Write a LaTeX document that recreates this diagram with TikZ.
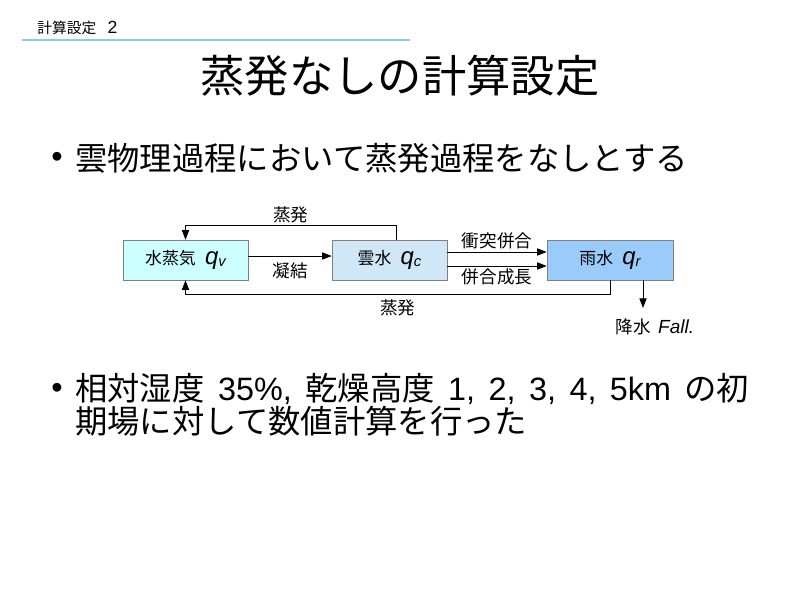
\documentclass[tikz,border=0pt]{standalone}
\usepackage{fontspec}
\setmainfont{Noto Sans CJK JP}
\newfontfamily\lat{Liberation Sans}[WordSpace=1.5]
\usetikzlibrary{arrows.meta,positioning,calc}
\definecolor{vaporfill}{RGB}{204,255,255}
\definecolor{cloudfill}{RGB}{207,231,247}
\definecolor{rainfill}{RGB}{153,204,250}
\definecolor{boxline}{RGB}{128,128,128}
\definecolor{headline}{RGB}{140,200,238}
\tikzset{
  water/.style={
    draw=boxline,
    thin,
    minimum height=1cm,
    inner sep=1pt,
    font=\fontsize{12}{13}\selectfont
  },
  flow/.style={-{Triangle[length=2.4mm,width=1.8mm]}, line width=0.7pt},
  flowlabel/.style={inner sep=1.5pt, font=\fontsize{12.5}{14}\selectfont},
  bullettext/.style={anchor=west, inner sep=0pt, font=\fontsize{23}{26}\selectfont},
  bulletdot/.style={inner sep=0pt, font=\lat\fontsize{23}{26}\selectfont}
}
\newcommand{\mixq}[1]{\hspace{0.55em}{\lat\itshape\fontsize{17}{17}\selectfont q\raisebox{-1.2pt}{\fontsize{10.5}{10}\selectfont #1}}}

\begin{document}
\begin{tikzpicture}[x=0.025cm, y=-0.025cm]
  \useasboundingbox (0,0) rectangle (800,600);

  % header and title
  \node[anchor=west, inner sep=0pt, font=\fontsize{10.5}{12}\selectfont] (header) at (37,28) {計算設定\hspace{8pt}{\lat\fontsize{12.5}{12}\selectfont 2}};
  \draw[headline, line width=1.5pt] (22,40) -- (410,40);
  \node[inner sep=0pt, font=\fontsize{31.5}{36}\selectfont] (title) at (400,76) {蒸発なしの計算設定};

  % first bullet
  \node[bulletdot] (dot1) at (57,160) {•};
  \node[bullettext] (line1) at (75,158) {雲物理過程において蒸発過程をなしとする};

  % the three boxes
  \node[water, fill=vaporfill, minimum width=3.125cm] (vapor) at (185.5,260) {水蒸気\mixq{v}};
  \node[water, fill=cloudfill, minimum width=2.875cm] (cloud) at (389.5,260) {雲水\mixq{c}};
  \node[water, fill=rainfill, minimum width=3.15cm] (rain) at (610,260) {雨水\mixq{r}};

  \draw[flow] ($(vapor.east)+(0,-4)$) -- node[flowlabel, below=3pt] {凝結} ($(cloud.west)+(0,-4)$);
  \draw[flow] ($(cloud.east)+(0,-8)$) -- node[flowlabel, above] {衝突併合} ($(rain.west)+(0,-8)$);
  \draw[flow] ($(cloud.east)+(0,6)$) -- node[flowlabel, below] {併合成長} ($(rain.west)+(0,6)$);

  % evaporation paths back to vapour
  \draw[flow] ($(cloud.north)+(6.5,0)$) -- ++(0,-14) coordinate (evtop)
    -- node[flowlabel, above] {蒸発} (evtop -| vapor.north) -- (vapor.north);
  \draw[flow] (rain.south) -- ++(0,14) coordinate (evbot)
    -- node[flowlabel, below=2pt] {蒸発} (evbot -| vapor.south) -- (vapor.south);

  % precipitation
  \node[flowlabel, inner sep=0pt] (fall) at (655,327) {降水\hspace{0.4em}{\lat\itshape\fontsize{13.5}{14}\selectfont Fall.}};
  \coordinate (falltip) at (643,308);
  \draw[flow] (falltip |- rain.south) -- (falltip);

  % second bullet
  \node[bulletdot] (dot2) at (57,391) {•};
  \node[bullettext, align=left, font=\fontsize{23}{22}\selectfont] (line2) at (75,404.5)
    {相対湿度{\lat\ 35\%, }乾燥高度{\lat\ 1, 2, 3, 4, 5km }の初\\期場に対して数値計算を行った};
\end{tikzpicture}
\end{document}
